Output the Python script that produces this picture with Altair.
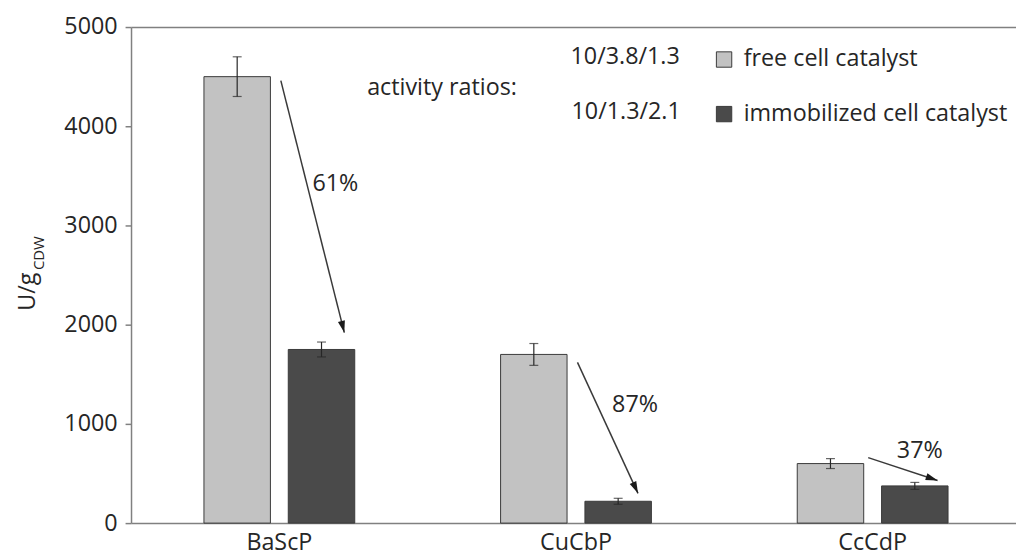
import altair as alt
import pandas as pd
import numpy as np

# ---------------- data ----------------
categories = ["BaScP", "CuCbP", "CcCdP"]
series = ["free cell catalyst", "immobilized cell catalyst"]
free_values = [4500, 1700, 600]
free_errors = [200, 110, 50]
immob_values = [1750, 220, 375]
immob_errors = [75, 30, 35]

# arrows (x in category units: 0..3, y in U/g)
arrow_x_start = [0.505, 1.505, 2.485]
arrow_y_start = [4460, 1620, 660]
arrow_x_end = [0.719, 1.709, 2.719]
arrow_y_end = [1920, 300, 430]
pct_labels = ["61%", "87%", "37%"]
pct_x = [0.689, 1.699, 2.659]
pct_y = [3420, 1190, 730]

ratio_labels = ["10/3.8/1.3", "10/1.3/2.1"]
ratio_title = "activity ratios:"
y_ticks = [0, 1000, 2000, 3000, 4000, 5000]
y_title_main = "U/g"
y_title_sub = "CDW"

# ---------------- style ----------------
FONT = "Open Sans"
FS = 23.5
TXT = "#262626"
AX = "#808080"
FREE = "#c2c2c2"
IMMOB = "#4a4a4a"
EDGE = "#3a3a3a"
W, H = 884, 500
RANGE = 897           # full band range (plot area is cropped at the right like the reference)
PX_PER_CAT = RANGE / 3
PX_PER_VAL = H / 5000

rows = []
for i, c in enumerate(categories):
    rows.append({"category": c, "series": series[0], "value": free_values[i],
                 "lo": free_values[i] - free_errors[i], "hi": free_values[i] + free_errors[i]})
    rows.append({"category": c, "series": series[1], "value": immob_values[i],
                 "lo": immob_values[i] - immob_errors[i], "hi": immob_values[i] + immob_errors[i]})
bars_df = pd.DataFrame(rows)

x_scale = alt.Scale(domain=categories, range=[0, RANGE], paddingInner=0, paddingOuter=0)
xo_scale = alt.Scale(domain=series, paddingInner=0.2118, paddingOuter=0.8647)
y_scale = alt.Scale(domain=[0, 5000], nice=False)

y_axis = alt.Axis(values=y_ticks, format="d", title=None, grid=False, labelFont=FONT,
                  labelFontSize=FS, labelColor=TXT, tickColor=AX, tickSize=6, tickWidth=1.5,
                  labelPadding=8, domainColor=AX, domainWidth=1.5)
x_axis = alt.Axis(title=None, labelFont=FONT, labelFontSize=FS, labelColor=TXT, labelAngle=0,
                  ticks=False, labelPadding=8, domainColor=AX, domainWidth=1.5, grid=False)

X = alt.X("category:N", sort=categories, scale=x_scale, axis=x_axis)
XO = alt.XOffset("series:N", sort=series, scale=xo_scale)

base = alt.Chart(bars_df)
bars = base.mark_bar(stroke=EDGE, strokeWidth=1).encode(
    x=X, xOffset=XO,
    y=alt.Y("value:Q", scale=y_scale, axis=y_axis),
    color=alt.Color("series:N", sort=series, scale=alt.Scale(domain=series, range=[FREE, IMMOB]),
                    legend=alt.Legend(orient="none", legendX=586, legendY=21, title=None,
                                      symbolType="square", symbolSize=240,
                                      symbolStrokeColor=EDGE, symbolStrokeWidth=1,
                                      labelFont=FONT, labelFontSize=FS, labelColor=TXT,
                                      labelOffset=8, rowPadding=30, padding=0,
                                      direction="vertical", labelLimit=400)),
)
err = base.mark_rule(color=TXT, strokeWidth=1.2).encode(
    x=X, xOffset=XO,
    y=alt.Y("lo:Q", scale=y_scale, axis=y_axis),
    y2="hi:Q",
)
cap_hi = base.mark_tick(color=TXT, size=9, thickness=1.2).encode(
    x=X, xOffset=XO,
    y=alt.Y("hi:Q", scale=y_scale, axis=y_axis),
)
cap_lo = base.mark_tick(color=TXT, size=9, thickness=1.2).encode(
    x=X, xOffset=XO,
    y=alt.Y("lo:Q", scale=y_scale, axis=y_axis),
)
main = alt.layer(bars, err, cap_hi, cap_lo)

# ---------------- annotations ----------------
arr = pd.DataFrame({"x0": arrow_x_start, "y0": arrow_y_start,
                    "x1": arrow_x_end, "y1": arrow_y_end})
dx = (arr["x1"] - arr["x0"]) * PX_PER_CAT
dy = (arr["y0"] - arr["y1"]) * PX_PER_VAL   # downward on screen
ln = np.sqrt(dx ** 2 + dy ** 2)
arr["angle"] = np.degrees(np.arctan2(dx, -dy))
HEAD = 6.0
arr["hx"] = arr["x1"] - HEAD * dx / ln / PX_PER_CAT
arr["hy"] = arr["y1"] + HEAD * dy / ln / PX_PER_VAL

ax_scale = alt.Scale(domain=[0, 3], range=[0, RANGE], nice=False, zero=False)
top_axis = alt.Axis(orient="top", labels=False, ticks=False, title=None, grid=False,
                    domainColor=AX, domainWidth=1.5)
YA = lambda f: alt.Y(f, scale=y_scale, axis=y_axis)

lines = alt.Chart(arr).mark_rule(color="#3a3a3a", strokeWidth=1.5).encode(
    x=alt.X("x0:Q", scale=ax_scale, axis=top_axis),
    x2="x1:Q",
    y=YA("y0:Q"),
    y2="y1:Q",
)
heads = alt.Chart(arr).mark_point(shape="M0,-1L-0.6,1L0.6,1Z", filled=True, size=144,
                                  color="#1a1a1a", opacity=1).encode(
    x=alt.X("hx:Q", scale=ax_scale, axis=top_axis),
    y=YA("hy:Q"),
    angle=alt.Angle("angle:Q", scale=None),
)
pct_df = pd.DataFrame({"x": pct_x, "y": pct_y, "t": pct_labels})
pcts = alt.Chart(pct_df).mark_text(font=FONT, fontSize=FS, color=TXT).encode(
    x=alt.X("x:Q", scale=ax_scale, axis=top_axis),
    y=YA("y:Q"),
    text="t:N",
)

def label(text, px, py, size=FS, angle=0, align="left", baseline="middle"):
    kw = dict(font=FONT, fontSize=size, color=TXT, align=align, baseline=baseline)
    if angle:
        kw["angle"] = angle
    return alt.Chart(pd.DataFrame({"t": [text]})).mark_text(**kw).encode(
        x=alt.value(px), y=alt.value(py), text="t:N")

texts = [
    label(ratio_labels[0], 443, 30),
    label(ratio_labels[1], 444, 86),
    label(ratio_title, 238, 62),
    label(y_title_main, -97, 286, angle=270, baseline="alphabetic"),
    label(y_title_sub, -88, 245, size=15, angle=270, baseline="alphabetic"),
]

annot = alt.layer(lines, heads, pcts, *texts)

chart = alt.layer(main, annot).resolve_scale(x="independent").properties(
    width=W, height=H,
    autosize=alt.AutoSizeParams(type="none"),
    padding={"left": 124, "top": 17, "right": 8, "bottom": 34},
    background="white",
).configure_view(stroke=None)

chart.save("out.html", embed_options={"renderer": "svg", "actions": False})
